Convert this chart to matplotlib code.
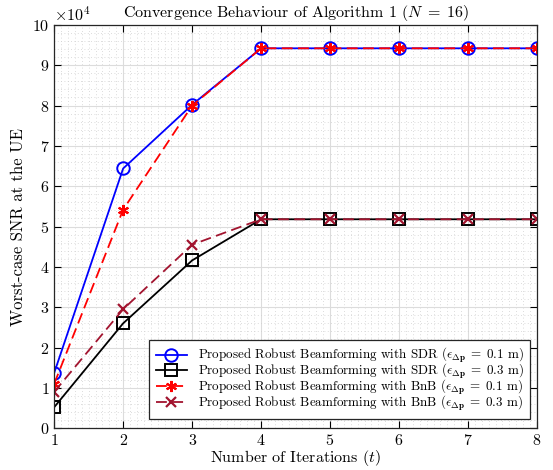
import numpy as np
import matplotlib
matplotlib.use("Agg")
import matplotlib.pyplot as plt
from matplotlib.ticker import MultipleLocator

plt.rcParams['font.family'] = 'cmr10'
plt.rcParams['mathtext.fontset'] = 'cm'
plt.rcParams['axes.formatter.use_mathtext'] = True

iters = [1, 2, 3, 4, 5, 6, 7, 8]
sdr_01 = [1.37e4, 6.44e4, 8.02e4, 9.42e4, 9.42e4, 9.42e4, 9.42e4, 9.42e4]
sdr_03 = [0.52e4, 2.60e4, 4.16e4, 5.18e4, 5.18e4, 5.18e4, 5.18e4, 5.18e4]
bnb_01 = [1.10e4, 5.42e4, 8.00e4, 9.42e4, 9.42e4, 9.42e4, 9.42e4, 9.42e4]
bnb_03 = [0.90e4, 2.95e4, 4.55e4, 5.18e4, 5.18e4, 5.18e4, 5.18e4, 5.18e4]

lab_sdr_01 = r"Proposed Robust Beamforming with SDR ($\epsilon_{\mathbf{\Delta p}}\;=\;0.1$ m)"
lab_sdr_03 = r"Proposed Robust Beamforming with SDR ($\epsilon_{\mathbf{\Delta p}}\;=\;0.3$ m)"
lab_bnb_01 = r"Proposed Robust Beamforming with BnB ($\epsilon_{\mathbf{\Delta p}}\;=\;0.1$ m)"
lab_bnb_03 = r"Proposed Robust Beamforming with BnB ($\epsilon_{\mathbf{\Delta p}}\;=\;0.3$ m)"

fig = plt.figure(figsize=(5.53, 4.70), dpi=100)
ax = fig.add_axes([0.098, 0.089, 0.873, 0.858])

darkred = (0.635, 0.078, 0.184)
ax.plot(iters, sdr_01, '-o', color='blue', lw=1.3, ms=9, mfc='none', mew=1.4, label=lab_sdr_01)
ax.plot(iters, sdr_03, '-s', color='black', lw=1.3, ms=8, mfc='none', mew=1.4, label=lab_sdr_03)
ax.plot(iters, bnb_01, '--', marker=(6, 2, 0), color='red', lw=1.3, ms=8, mew=1.5,
        label=lab_bnb_01, dashes=(6, 3))
ax.plot(iters, bnb_03, '--x', color=darkred, lw=1.3, ms=7, mew=1.6, label=lab_bnb_03, dashes=(6, 3))

ax.set_xlim(1, 8)
ax.set_ylim(0, 1e5)
ax.xaxis.set_major_locator(MultipleLocator(1))
ax.xaxis.set_minor_locator(MultipleLocator(0.1))
ax.yaxis.set_major_locator(MultipleLocator(1e4))
ax.yaxis.set_minor_locator(MultipleLocator(2e3))
ax.ticklabel_format(axis='y', style='sci', scilimits=(4, 4))
ax.yaxis.get_offset_text().set_fontsize(11.5)

ax.grid(which='major', color='#dcdcdc', lw=0.8)
ax.grid(which='minor', color='#d0d0d0', lw=0.6, ls=(0, (1, 3)))
ax.set_axisbelow(True)
ax.tick_params(which='both', direction='in', top=True, right=True, labelsize=11.5)
ax.tick_params(which='minor', length=0)
ax.tick_params(which='major', length=5, width=0.8)
for s in ax.spines.values():
    s.set_color('#262626')
    s.set_linewidth(0.9)

ax.set_title(r"Convergence Behaviour of Algorithm 1 ($N\;=\;16$)", fontsize=11.5)
ax.set_xlabel(r"Number of Iterations ($t$)", fontsize=11.5, labelpad=0)
ax.set_ylabel("Worst-case SNR at the UE", fontsize=12)

leg = ax.legend(loc='lower right', bbox_to_anchor=(0.9855, 0.022), borderaxespad=0,
                fontsize=9.4, fancybox=False, framealpha=1,
                edgecolor='#262626', handlelength=2.4,
                labelspacing=-0.25, borderpad=0.5, handleheight=0.6)
leg.get_frame().set_linewidth(0.9)

fig.savefig("out.png", dpi=100)
